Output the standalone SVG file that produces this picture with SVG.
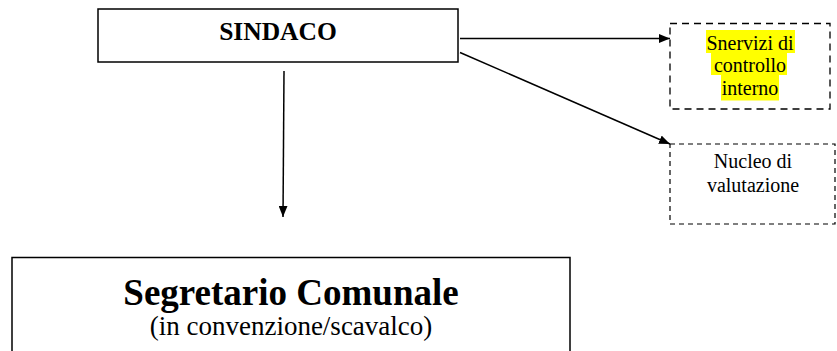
<svg xmlns="http://www.w3.org/2000/svg" width="837" height="351" viewBox="0 0 837 351">
<defs>
<style>
.box{fill:#fff;stroke:#000;stroke-width:1.5}
.dash{fill:#fff;stroke:#000;stroke-width:1.3;stroke-dasharray:7 5}
.dash2{fill:#fff;stroke:#000;stroke-width:1.2;stroke-dasharray:5 4}
.t{font-family:"Liberation Serif","Times New Roman",serif;text-anchor:middle;fill:#000}
.b{font-weight:bold}
.line{stroke:#000;stroke-width:1.5;fill:none;marker-end:url(#ah)}
.hl{fill:#ffff00}
</style>
<marker id="ah" viewBox="0 0 10 8" refX="10" refY="4" markerWidth="11" markerHeight="9" markerUnits="userSpaceOnUse" orient="auto">
<path d="M0,0 L10,4 L0,8 z" fill="#000"/>
</marker>
</defs>
<rect width="837" height="351" fill="#fff"/>
<g id="connectors">
<line class="line" x1="460" y1="38.5" x2="670" y2="38.5"/>
<line class="line" x1="460" y1="52.5" x2="670" y2="144"/>
<line class="line" x1="284" y1="71" x2="283" y2="217"/>
</g>
<g id="sindaco">
<rect class="box" x="98" y="9" width="360" height="53"/>
<text class="t b" x="278" y="40" font-size="25.5">SINDACO</text>
</g>
<g id="servizi">
<rect class="dash" x="670" y="23.5" width="160" height="85.5"/>
<rect class="hl" x="706" y="30" width="89" height="23"/>
<rect class="hl" x="711" y="53" width="76" height="22"/>
<rect class="hl" x="721" y="75" width="58" height="25.5"/>
<text class="t" x="750" y="50" font-size="20">Snervizi di</text>
<text class="t" x="750" y="72" font-size="20">controllo</text>
<text class="t" x="750" y="95" font-size="20">interno</text>
</g>
<g id="nucleo">
<rect class="dash2" x="670" y="144" width="165" height="80"/>
<text class="t" x="753" y="168" font-size="20">Nucleo di</text>
<text class="t" x="753" y="192" font-size="20">valutazione</text>
</g>
<g id="segretario">
<rect class="box" x="12" y="257.5" width="558" height="110"/>
<text class="t b" x="291" y="305" font-size="37">Segretario Comunale</text>
<text class="t" x="291" y="335" font-size="27">(in convenzione/scavalco)</text>
</g>
</svg>
